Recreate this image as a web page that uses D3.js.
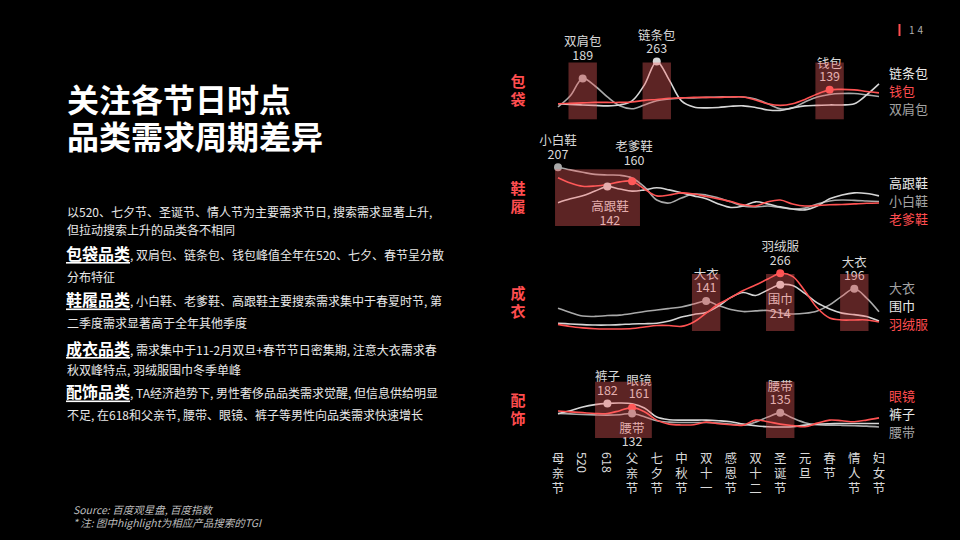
<!DOCTYPE html>
<html><head><meta charset="utf-8">
<script src="https://cdn.jsdelivr.net/npm/d3@7"></script>
<style>
html,body{margin:0;padding:0;background:#000;}
svg{display:block;}
text{font-family:"Noto Sans CJK SC","Noto Sans",sans-serif;}
</style></head><body>
<svg id="chart" width="960" height="540"></svg>
<script>
// ---------- data ----------
const categories = ["母亲节","520","618","父亲节","七夕节","中秋节","双十一","感恩节","双十二","圣诞节","元旦","春节","情人节","妇女节"];
// period positions (half-steps between holidays)
const periods = d3.range(0, 13.5, 0.5);

const bagShoulder = [64,113,189,156,108,69,56,73,91,99,104,104,106,108,108,108,99,78,56,60,86,108,119,123,123,117,110];
const bagChain    = [78,75,73,71,69,73,91,161,263,183,91,64,60,62,67,69,62,51,49,60,69,71,73,73,78,117,165];
const bagWallet   = [78,80,82,84,84,84,86,93,97,102,104,106,106,106,108,108,95,78,71,78,97,121,139,141,139,132,126];

const shoeWhite = [207,198,190,183,181,180,171,141,97,87,104,117,114,104,91,77,74,77,72,67,70,84,94,97,96,94,92];
const shoeHeel  = [88,101,111,127,142,134,127,131,138,131,121,111,101,84,72,77,91,84,74,67,64,77,101,114,121,119,111];
const shoeDad   = [172,154,143,144,149,158,160,134,111,114,121,117,109,101,92,81,77,91,97,84,77,79,81,82,84,86,87];

const coatCoat  = [108,89,73,71,75,77,84,93,100,107,114,127,141,120,102,93,96,98,86,82,85,96,123,163,196,154,92];
const coatScarf = [40,37,34,32,32,34,37,38,40,50,68,80,89,118,157,179,166,191,214,211,175,132,105,86,79,71,50];
const coatDown  = [35,25,19,15,14,14,16,23,30,30,26,46,86,127,156,188,213,240,266,252,186,109,64,55,55,55,46];

const accPants   = [131,146,164,176,182,184,180,159,114,101,99,99,99,96,91,79,71,66,65,66,74,79,81,82,82,82,82];
const accBelt    = [132,130,127,125,124,126,132,116,96,89,87,87,87,84,79,74,89,114,135,109,86,76,74,73,71,69,65];
const accGlasses = [144,140,136,132,132,146,161,141,99,79,75,76,89,81,76,74,99,91,79,72,66,84,99,96,91,99,110];

const panelNames = ["包袋","鞋履","成衣","配饰"];

const panels = [
  { name: panelNames[0], top: 62.5, bottom: 119.3, domain: [10, 259], legendShift: 0,
    series: [
      { name: "双肩包", values: bagShoulder, tone: "dim" },
      { name: "链条包", values: bagChain, tone: "light" },
      { name: "钱包", values: bagWallet, tone: "red" } ],
    legend: ["链条包","钱包","双肩包"],
    spans: [[1,1],[4,4],[11,11]],
    notes: [ { s: "双肩包", at: 1, extra: -10 }, { s: "链条包", at: 4 }, { s: "钱包", at: 11 } ] },
  { name: panelNames[1], top: 169.3, bottom: 226, domain: [10, 200], legendShift: 2.5,
    series: [
      { name: "小白鞋", values: shoeWhite, tone: "dim" },
      { name: "高跟鞋", values: shoeHeel, tone: "light" },
      { name: "老爹鞋", values: shoeDad, tone: "red" } ],
    legend: ["高跟鞋","小白鞋","老爹鞋"],
    spans: [[-0.12, 3.32]],
    notes: [ { s: "小白鞋", at: 0 }, { s: "老爹鞋", at: 3, extra: -8, dx: 2 }, { s: "高跟鞋", at: 2, below: true, extra: 5.5, dx: 2.5 } ] },
  { name: panelNames[2], top: 274, bottom: 331, domain: [5, 263], legendShift: 2.5,
    series: [
      { name: "大衣", values: coatCoat, tone: "dim" },
      { name: "围巾", values: coatScarf, tone: "light" },
      { name: "羽绒服", values: coatDown, tone: "red" } ],
    legend: ["大衣","围巾","羽绒服"],
    spans: [[6,6],[9,9],[12,12]],
    notes: [ { s: "大衣", at: 6 }, { s: "羽绒服", at: 9 }, { s: "围巾", at: 9, below: true }, { s: "大衣", at: 12 } ] },
  { name: panelNames[3], top: 381.7, bottom: 438, domain: [10, 290], legendShift: 4,
    series: [
      { name: "腰带", values: accBelt, tone: "dim" },
      { name: "裤子", values: accPants, tone: "light" },
      { name: "眼镜", values: accGlasses, tone: "red" } ],
    legend: ["眼镜","裤子","腰带"],
    spans: [[1.5, 3.8],[9,9]],
    notes: [ { s: "裤子", at: 2 }, { s: "眼镜", at: 3, extra: -1, dx: 7 }, { s: "腰带", at: 3, below: true }, { s: "腰带", at: 9 } ] }
];

const paragraphs = [
  { head: null, lines: ["以520、七夕节、圣诞节、情人节为主要需求节日, 搜索需求显著上升,", "但拉动搜索上升的品类各不相同"], y: [217, 235] },
  { head: "包袋品类", lines: [", 双肩包、链条包、钱包峰值全年在520、七夕、春节呈分散", "分布特征"], y: [259.5, 281.5] },
  { head: "鞋履品类", lines: [", 小白鞋、老爹鞋、高跟鞋主要搜索需求集中于春夏时节, 第", "二季度需求显著高于全年其他季度"], y: [306, 327.5] },
  { head: "成衣品类", lines: [", 需求集中于11-2月双旦+春节节日密集期, 注意大衣需求春", "秋双峰特点, 羽绒服围巾冬季单峰"], y: [354.5, 375] },
  { head: "配饰品类", lines: [", TA经济趋势下, 男性奢侈品品类需求觉醒, 但信息供给明显", "不足, 在618和父亲节, 腰带、眼镜、裤子等男性向品类需求快速增长"], y: [398, 420] }
];

// ---------- drawing ----------
const svg = d3.select("#chart");
svg.append("rect").attr("width", 960).attr("height", 540).attr("fill", "#000");

const RED = "#ff4d4f";
const lineColor = { dim: "#a9a9a9", light: "#d6d6d6", red: "#ff5252" };
const labelColor = { dim: "#a3a3a3", light: "#e8e8e8", red: "#ff4d4f" };

// Title
const title = svg.append("g").attr("fill", "#fff").attr("font-weight", 700).attr("font-size", 32);
title.append("text").attr("x", 67).attr("y", 112).text("关注各节日时点");
title.append("text").attr("x", 67).attr("y", 149).text("品类需求周期差异");

// Paragraphs
const para = svg.append("g").attr("fill", "#e8e8e8");
paragraphs.forEach(p => {
  const t = para.append("text").attr("x", 67).attr("y", p.y[0]).attr("font-size", 12);
  if (p.head) {
    const h = para.append("text").attr("x", 66).attr("y", p.y[0]).attr("font-size", 16).attr("font-weight", 700).attr("fill", "#fff").text(p.head);
    const w = h.node().getComputedTextLength();
    para.append("rect").attr("x", 66).attr("y", p.y[0] + 2.5).attr("width", w).attr("height", 1.6).attr("fill", "#fff");
    t.attr("x", 66 + w);
  }
  t.text(p.lines[0]);
  para.append("text").attr("x", 67).attr("y", p.y[1]).attr("font-size", 12).text(p.lines[1]);
});

// Source
const src = svg.append("g").attr("fill", "#bdbdbd").attr("font-size", 10.5).attr("font-style", "italic");
src.append("text").attr("x", 73).attr("y", 513.5).text("Source: 百度观星盘, 百度指数");
src.append("text").attr("x", 73).attr("y", 526.5).text("* 注: 图中highlight为相应产品搜索的TGI");

// Page number
svg.append("rect").attr("x", 898.5).attr("y", 24).attr("width", 2).attr("height", 12).attr("fill", RED);
svg.append("text").attr("x", 909).attr("y", 34).attr("font-size", 10).attr("fill", "#b0b0b0").attr("letter-spacing", 3).text("14");

// x scale
const x = d3.scaleLinear().domain([0, categories.length - 1]).range([558, 879]);

panels.forEach(p => {
  const y = d3.scaleLinear().domain(p.domain).range([p.bottom, p.top]);
  const g = svg.append("g");
  const mid = (p.top + p.bottom) / 2;

  // side label (vertical)
  g.append("text").attr("x", 518).attr("y", mid - 17)
    .attr("writing-mode", "vertical-rl").attr("letter-spacing", 3)
    .attr("font-size", 15).attr("font-weight", 700).attr("fill", RED).text(p.name);

  const line = d3.line().x((d, i) => x(periods[i])).y(d => y(d)).curve(d3.curveCatmullRom.alpha(0.5));
  p.series.forEach(s => {
    g.append("path").attr("d", line(s.values)).attr("fill", "none")
      .attr("stroke", lineColor[s.tone]).attr("stroke-width", 1.6);
  });

  // markers & notes
  p.notes.forEach(n => {
    const s = p.series.find(d => d.name === n.s);
    const idx = periods.indexOf(n.at);
    const v = s.values[idx];
    const cx = x(n.at), cy = y(v);
    g.append("circle").attr("cx", cx).attr("cy", cy).attr("r", 4).attr("fill", lineColor[s.tone]);
    const dx = n.dx || 0, extra = n.extra || 0;
    let yName, yVal;
    if (n.below) { yName = cy + 13.8 + extra; yVal = cy + 27.2 + extra; }
    else { yVal = cy - 14 + extra; yName = cy - 27.5 + extra; }
    g.append("text").attr("x", cx + dx).attr("y", yName).attr("text-anchor", "middle").attr("dominant-baseline", "central")
      .attr("font-size", 12.5).attr("fill", "#d8d8d8").text(s.name);
    g.append("text").attr("x", cx + dx).attr("y", yVal).attr("text-anchor", "middle").attr("dominant-baseline", "central")
      .attr("font-size", 12.5).attr("fill", "#d8d8d8").text(v);
  });

  // highlight spans (overlay)
  const half = 14.2;
  p.spans.forEach(([a, b]) => {
    const x0 = a === b ? x(a) - half : x(a);
    const x1 = a === b ? x(b) + half : x(b);
    g.append("rect").attr("x", x0).attr("y", p.top).attr("width", x1 - x0).attr("height", p.bottom - p.top)
      .attr("fill", "rgba(255,100,100,0.36)");
  });

  // right legend
  p.legend.forEach((nm, i) => {
    const s = p.series.find(d => d.name === nm);
    g.append("text").attr("x", 889).attr("y", mid + p.legendShift + (i - 1) * 18).attr("dominant-baseline", "central")
      .attr("font-size", 13).attr("fill", labelColor[s.tone]).text(nm);
  });
});

// x axis labels (vertical writing)
const ax = svg.append("g").attr("fill", "#d9d9d9").attr("font-size", 12.5);
categories.forEach((c, i) => {
  const numeric = /^\d+$/.test(c);
  ax.append("text").attr("x", x(i)).attr("y", 452)
    .attr("writing-mode", "vertical-rl").attr("letter-spacing", numeric ? 0 : 2.5).text(c);
});
</script>
</body></html>
